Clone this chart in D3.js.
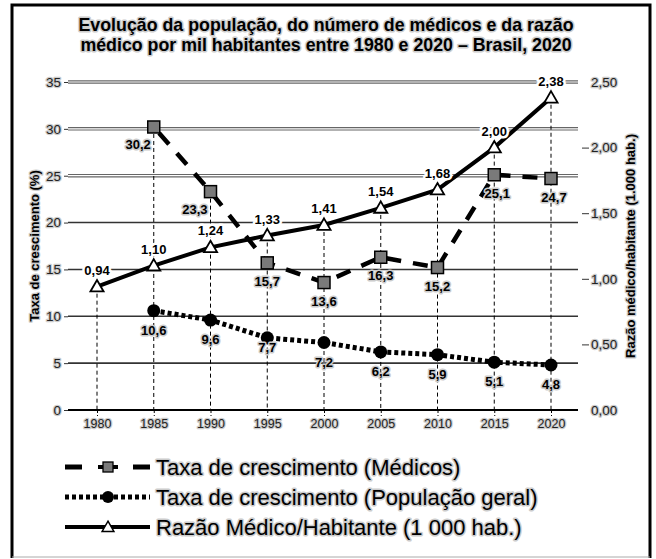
<!DOCTYPE html>
<html>
<head>
<meta charset="utf-8">
<style>
  body { margin: 0; background: #fff; }
  svg text { font-family: "Liberation Sans", Arial, sans-serif; }
</style>
</head>
<body>
<svg id="chart" width="656" height="559"></svg>
<script src="https://d3js.org/d3.v7.min.js"></script>
<script>
// dados
const years = [1980, 1985, 1990, 1995, 2000, 2005, 2010, 2015, 2020]
const medicos = [null, 30.2, 23.3, 15.7, 13.6, 16.3, 15.2, 25.1, 24.7]
const populacao = [null, 10.6, 9.6, 7.7, 7.2, 6.2, 5.9, 5.1, 4.8]
const razao = [0.94, 1.10, 1.24, 1.33, 1.41, 1.54, 1.68, 2.00, 2.38]
const leftTicks = [0, 5, 10, 15, 20, 25, 30, 35]
const rightTicks = [0, 0.5, 1, 1.5, 2, 2.5]
const titleLines = ['Evolução da população, do número de médicos e da razão',
  'médico por mil habitantes entre 1980 e 2020 – Brasil, 2020']
const legendLabels = ['Taxa de crescimento (Médicos)',
  'Taxa de crescimento (População geral)',
  'Razão Médico/Habitante (1 000 hab.)']

const svg = d3.select('#chart')
const x = d3.scaleLinear().domain([1980, 2020]).range([97, 551])
const yL = d3.scaleLinear().domain([0, 35]).range([410, 82])
const yR = d3.scaleLinear().domain([0, 2.5]).range([410, 82])
const gridX0 = 68, gridX1 = 578
const comma = (f) => (v) => d3.format(f)(v).replace('.', ',')

// halo cinza que imita o fundo granulado do original
function halo(sel, color, w) {
  sel.attr('stroke', color).attr('stroke-width', w).attr('paint-order', 'stroke')
    .attr('stroke-linejoin', 'round')
}

// moldura
svg.append('path').attr('d', `M12,558 L12,5 L650,5 L650,558`)
  .attr('fill', 'none').attr('stroke', '#000').attr('stroke-width', 3)
svg.append('line').attr('x1', 12).attr('x2', 650).attr('y1', 557).attr('y2', 557)
  .attr('stroke', '#aaa').attr('stroke-width', 1)

// titulo
svg.append('g').selectAll('text').data(titleLines).join('text')
  .attr('x', 326).attr('y', (d, i) => 31 + i * 20)
  .attr('text-anchor', 'middle').attr('font-size', 17.8).attr('font-weight', 'bold')
  .text(d => d).call(halo, '#ccc', 3)

// linhas de grade
const grid = svg.append('g')
leftTicks.forEach(t => {
  const y = yL(t)
  if (t >= 25) {
    grid.append('line').attr('x1', gridX0).attr('x2', gridX1).attr('y1', y).attr('y2', y)
      .attr('stroke', '#666').attr('stroke-width', 3.5)
    grid.append('line').attr('x1', gridX0).attr('x2', gridX1).attr('y1', y).attr('y2', y)
      .attr('stroke', '#fff').attr('stroke-width', 1.2)
  } else {
    grid.append('line').attr('x1', gridX0).attr('x2', gridX1).attr('y1', y).attr('y2', y)
      .attr('stroke', t === 0 ? '#000' : '#333').attr('stroke-width', t === 0 ? 2 : 1.6)
  }
})

// eixo esquerdo
const axL = svg.append('g').attr('transform', `translate(${gridX0},0)`)
  .call(d3.axisLeft(yL).tickValues(leftTicks).tickSize(4).tickPadding(3).tickFormat(d3.format('d')))
axL.select('.domain').remove()
axL.selectAll('.tick line').attr('stroke', '#333')
axL.selectAll('text').attr('font-size', 13.5).attr('fill', '#222').attr('font-family', null)
  .call(halo, '#ccc', 2.5)

// eixo direito
const axR = svg.append('g').attr('transform', `translate(${gridX1 + 4},0)`)
  .call(d3.axisRight(yR).tickValues(rightTicks).tickSize(7).tickPadding(2).tickFormat(comma('.2f')))
axR.select('.domain').remove()
axR.selectAll('.tick line').attr('stroke', '#333')
  .attr('display', d => (d === 0 || d === 2.5) ? 'none' : null)
axR.selectAll('text').attr('font-size', 13.5).attr('fill', '#222').attr('font-family', null)
  .call(halo, '#ccc', 2.5)

// eixo x
const axB = svg.append('g').attr('transform', `translate(0,${yL(0)})`)
  .call(d3.axisBottom(x).tickValues(years).tickSize(6).tickPadding(3).tickFormat(d3.format('d')))
axB.select('.domain').remove()
axB.selectAll('.tick line').attr('stroke', '#000').attr('stroke-dasharray', '3,2')
axB.selectAll('text').attr('font-size', 12.5).attr('fill', '#222').attr('font-family', null)
  .call(halo, '#ccc', 2.5)

// titulos dos eixos
svg.append('text').attr('transform', 'translate(39,246) rotate(-90)')
  .attr('text-anchor', 'middle').attr('font-size', 13).attr('font-weight', 'bold')
  .text('Taxa de crescimento (%)').call(halo, '#ccc', 2.5)
svg.append('text').attr('transform', 'translate(635,246) rotate(-90)')
  .attr('text-anchor', 'middle').attr('font-size', 13).attr('font-weight', 'bold')
  .text('Razão médico/habitante (1.000 hab.)').call(halo, '#ccc', 2.5)

// linhas verticais tracejadas ate o ponto mais alto de cada ano
const topY = years.map((yr, i) => d3.min([
  medicos[i] != null ? yL(medicos[i]) : null,
  populacao[i] != null ? yL(populacao[i]) : null,
  yR(razao[i])].filter(v => v != null)))
svg.append('g').selectAll('line').data(years).join('line')
  .attr('x1', d => x(d)).attr('x2', d => x(d))
  .attr('y1', (d, i) => topY[i]).attr('y2', yL(0))
  .attr('stroke', '#000').attr('stroke-width', 1).attr('stroke-dasharray', '4,3')

const medData = years.map((yr, i) => ({ yr, v: medicos[i] })).filter(d => d.v != null)
const popData = years.map((yr, i) => ({ yr, v: populacao[i] })).filter(d => d.v != null)
const razData = years.map((yr, i) => ({ yr, v: razao[i] }))

// populacao (pontilhada)
svg.append('path').datum(popData)
  .attr('d', d3.line().x(d => x(d.yr)).y(d => yL(d.v)))
  .attr('fill', 'none').attr('stroke', '#000').attr('stroke-width', 5).attr('stroke-dasharray', '4,3')
svg.append('g').selectAll('circle').data(popData).join('circle')
  .attr('cx', d => x(d.yr)).attr('cy', d => yL(d.v)).attr('r', 6.5).attr('fill', '#000')

// razao (continua)
svg.append('path').datum(razData)
  .attr('d', d3.line().x(d => x(d.yr)).y(d => yR(d.v)))
  .attr('fill', 'none').attr('stroke', '#000').attr('stroke-width', 4)

// medicos (tracejada)
svg.append('path').datum(medData)
  .attr('d', d3.line().x(d => x(d.yr)).y(d => yL(d.v)))
  .attr('fill', 'none').attr('stroke', '#000').attr('stroke-width', 4.5).attr('stroke-dasharray', '15,12')
  .attr('stroke-dashoffset', -8)
svg.append('g').selectAll('rect').data(medData).join('rect')
  .attr('x', d => x(d.yr) - 6).attr('y', d => yL(d.v) - 6).attr('width', 12).attr('height', 12)
  .attr('fill', '#7a7a7a').attr('stroke', '#000').attr('stroke-width', 1.5)

svg.append('g').selectAll('path').data(razData).join('path')
  .attr('transform', d => `translate(${x(d.yr)},${yR(d.v) + 1})`)
  .attr('d', d3.symbol(d3.symbolTriangle, 75))
  .attr('fill', '#fff').attr('stroke', '#000').attr('stroke-width', 1.8)

// rotulos
const lbl = svg.append('g').attr('font-size', 13).attr('font-weight', 'bold')
lbl.selectAll('.lm').data(medData).join('text').attr('class', 'lm')
  .attr('x', d => d.yr <= 1990 ? x(d.yr) - 3 : x(d.yr) + (d.yr >= 2015 ? 3 : 0))
  .attr('y', d => yL(d.v) + (d.yr <= 1990 ? 22 : 23))
  .attr('text-anchor', d => d.yr <= 1990 ? 'end' : 'middle')
  .text(d => comma('.1f')(d.v)).call(halo, '#ccc', 3)
lbl.selectAll('.lp').data(popData).join('text').attr('class', 'lp')
  .attr('x', d => x(d.yr)).attr('y', d => yL(d.v) + (d.v === 7.7 ? 14 : 24))
  .attr('text-anchor', 'middle')
  .text(d => comma('.1f')(d.v)).call(halo, '#ccc', 3)
lbl.selectAll('.lr').data(razData).join('text').attr('class', 'lr')
  .attr('x', d => x(d.yr)).attr('y', d => yR(d.v) - 12)
  .attr('text-anchor', 'middle')
  .text(d => comma('.2f')(d.v)).call(halo, '#fff', 5)

// legenda
const leg = svg.append('g')
const legY = [467, 497, 527]
const l1 = leg.append('g').attr('transform', `translate(0,${legY[0]})`)
l1.append('line').attr('x1', 65).attr('x2', 82).attr('stroke', '#000').attr('stroke-width', 5)
l1.append('line').attr('x1', 98).attr('x2', 118).attr('stroke', '#000').attr('stroke-width', 4)
l1.append('rect').attr('x', 103).attr('y', -5).attr('width', 10).attr('height', 10)
  .attr('fill', '#7a7a7a').attr('stroke', '#000').attr('stroke-width', 1.3)
l1.append('line').attr('x1', 133).attr('x2', 150).attr('stroke', '#000').attr('stroke-width', 5)
const l2 = leg.append('g').attr('transform', `translate(0,${legY[1]})`)
l2.append('line').attr('x1', 65).attr('x2', 150).attr('stroke', '#000').attr('stroke-width', 5)
  .attr('stroke-dasharray', '4,3')
l2.append('circle').attr('cx', 108).attr('r', 6).attr('fill', '#000')
const l3 = leg.append('g').attr('transform', `translate(0,${legY[2]})`)
l3.append('line').attr('x1', 65).attr('x2', 150).attr('stroke', '#000').attr('stroke-width', 4)
l3.append('path').attr('transform', 'translate(108,1)').attr('d', d3.symbol(d3.symbolTriangle, 60))
  .attr('fill', '#fff').attr('stroke', '#000').attr('stroke-width', 1.5)
leg.selectAll('text').data(legendLabels).join('text')
  .attr('x', 156).attr('y', (d, i) => legY[i] + 8).attr('font-size', 22)
  .text(d => d).call(halo, '#ccc', 3)
</script>
</body>
</html>
